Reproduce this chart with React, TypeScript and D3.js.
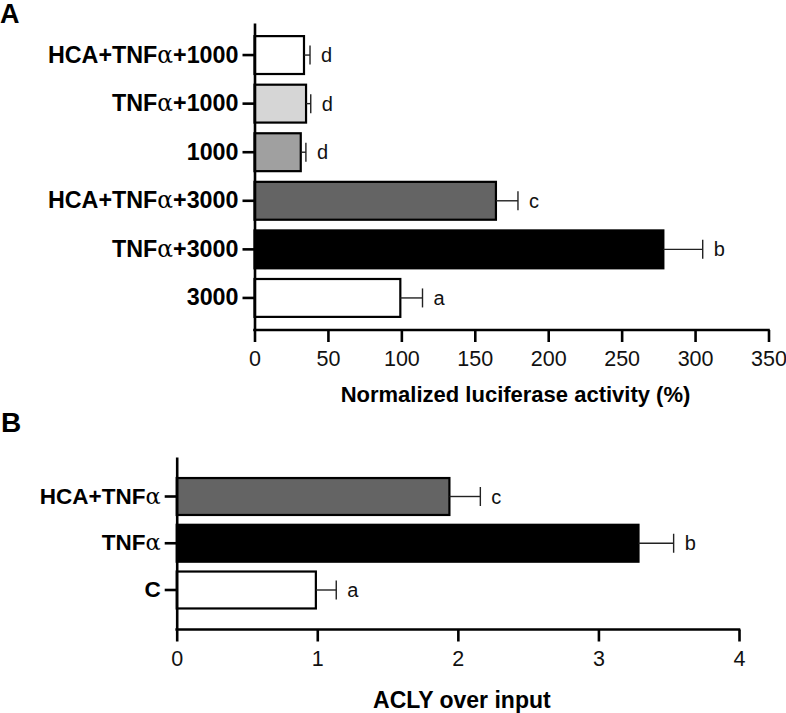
import React, { useRef, useEffect } from 'react';
import * as d3 from 'd3';

// panel A - luciferase
const catsA = ['HCA+TNFα+1000', 'TNFα+1000', '1000', 'HCA+TNFα+3000', 'TNFα+3000', '3000'];
const valsA = [33.7, 35.1, 31.5, 164.4, 278.4, 99.3];
const errA = [4.1, 3.2, 3.5, 15, 26.8, 15.1];
const sigA = ['d', 'd', 'd', 'c', 'b', 'a'];
const ticksA = [0, 50, 100, 150, 200, 250, 300, 350];

// panel B - ACLY ChIP
const catsB = ['HCA+TNFα', 'TNFα', 'C'];
const valsB = [1.94, 3.285, 0.99];
const errB = [0.22, 0.25, 0.145];
const sigB = ['c', 'b', 'a'];
const ticksB = [0, 1, 2, 3, 4];

const fillsA = ['#ffffff', '#d6d6d6', '#a0a0a0', '#646464', '#000000', '#ffffff'];
const fillsB = ['#646464', '#000000', '#ffffff'];

const SANS = '"Liberation Sans", Arial, Helvetica, sans-serif';

interface PanelOpts {
  cats: string[];
  vals: number[];
  errs: number[];
  sig: string[];
  fills: string[];
  ticks: number[];
  xDomain: [number, number];
  xRange: [number, number];
  yRange: [number, number];
  paddingInner: number;
  paddingOuter: number;
  labelSize: number;
  title: string;
  titleY: number;
  titleSize: number;
}

function drawPanel(svg: d3.Selection<SVGSVGElement, unknown, null, undefined>, o: PanelOpts) {
  const x = d3.scaleLinear().domain(o.xDomain).range(o.xRange);
  const y = d3.scaleBand<string>()
    .domain(o.cats)
    .range(o.yRange)
    .paddingInner(o.paddingInner)
    .paddingOuter(o.paddingOuter);

  const g = svg.append('g');

  // bars
  g.selectAll('rect.bar')
    .data(o.cats)
    .enter()
    .append('rect')
    .attr('class', 'bar')
    .attr('x', x(0))
    .attr('y', d => y(d) as number)
    .attr('width', (d, i) => x(o.vals[i]) - x(0))
    .attr('height', y.bandwidth())
    .attr('fill', (d, i) => o.fills[i])
    .attr('stroke', '#000')
    .attr('stroke-width', 2.2);

  // error bars (one-sided)
  const capH = 19;
  o.cats.forEach((c, i) => {
    const cy = (y(c) as number) + y.bandwidth() / 2;
    const x1 = x(o.vals[i]);
    const x2 = x(o.vals[i] + o.errs[i]);
    g.append('line')
      .attr('x1', x1).attr('x2', x2).attr('y1', cy).attr('y2', cy)
      .attr('stroke', '#222').attr('stroke-width', 1.4);
    g.append('line')
      .attr('x1', x2).attr('x2', x2).attr('y1', cy - capH / 2).attr('y2', cy + capH / 2)
      .attr('stroke', '#222').attr('stroke-width', 1.4);
    g.append('text')
      .attr('x', x2 + 11)
      .attr('y', cy)
      .attr('dy', '0.35em')
      .attr('font-family', SANS)
      .attr('font-size', 20)
      .attr('fill', '#111')
      .text(o.sig[i]);
  });

  // x axis
  const xAxis = d3.axisBottom(x)
    .tickValues(o.ticks)
    .tickFormat(d3.format('d'))
    .tickSizeInner(12)
    .tickSizeOuter(0)
    .tickPadding(9);
  const gx = g.append('g')
    .attr('transform', `translate(0,${o.yRange[1]})`)
    .call(xAxis);
  gx.select('.domain').attr('stroke-width', 2.6).attr('d', `M${x(0) - 1.3},0H${x.range()[1] + 1.3}`);
  gx.selectAll('.tick line').attr('stroke-width', 2.6);
  gx.selectAll('.tick text')
    .attr('font-family', SANS)
    .attr('font-size', 21.5)
    .attr('fill', '#111');

  // y axis
  const yAxis = d3.axisLeft(y).tickSizeInner(12).tickSizeOuter(0).tickPadding(4);
  const gy = g.append('g')
    .attr('transform', `translate(${x(0)},0)`)
    .call(yAxis);
  gy.select('.domain').attr('stroke-width', 2.6);
  gy.selectAll('.tick line').attr('stroke-width', 2.6);
  gy.selectAll<SVGTextElement, string>('.tick text')
    .attr('font-family', SANS)
    .attr('font-weight', 'bold')
    .attr('font-size', o.labelSize)
    .attr('fill', '#000')
    .each(function (d) {
      const t = d3.select(this);
      t.text('');
      const parts = d.split('α');
      parts.forEach((p, k) => {
        if (k > 0) {
          t.append('tspan')
            .attr('font-family', '"DejaVu Serif", "Liberation Serif", serif')
            .attr('font-weight', 'normal')
            .attr('font-size', o.labelSize)
            .text('α');
        }
        if (p) t.append('tspan').text(p);
      });
    });

  // axis title
  g.append('text')
    .attr('x', (x.range()[0] + x.range()[1]) / 2 + 4)
    .attr('y', o.titleY)
    .attr('text-anchor', 'middle')
    .attr('font-family', SANS)
    .attr('font-weight', 'bold')
    .attr('font-size', o.titleSize)
    .attr('fill', '#000')
    .text(o.title);
}

const Figure: React.FC = () => {
  const svgRef = useRef<SVGSVGElement | null>(null);

  useEffect(() => {
    if (!svgRef.current) return;
    const svg = d3.select(svgRef.current);
    svg.selectAll('*').remove();

    svg.append('rect').attr('width', 786).attr('height', 713).attr('fill', '#fff');

    drawPanel(svg, {
      cats: catsA,
      vals: valsA,
      errs: errA,
      sig: sigA,
      fills: fillsA,
      ticks: ticksA,
      xDomain: [0, 350],
      xRange: [254.5, 768.5],
      yRange: [23, 330],
      paddingInner: 0.22,
      paddingOuter: 0.27,
      labelSize: 23.3,
      title: 'Normalized luciferase activity (%)',
      titleY: 402,
      titleSize: 22,
    });

    drawPanel(svg, {
      cats: catsB,
      vals: valsB,
      errs: errB,
      sig: sigB,
      fills: fillsB,
      ticks: ticksB,
      xDomain: [0, 4],
      xRange: [176.7, 739],
      yRange: [457, 629.5],
      paddingInner: 0.21,
      paddingOuter: 0.45,
      labelSize: 22.5,
      title: 'ACLY over input',
      titleY: 708,
      titleSize: 23,
    });

    // panel letters
    svg.append('text')
      .attr('x', 0).attr('y', 23)
      .attr('font-family', SANS).attr('font-weight', 'bold').attr('font-size', 27)
      .text('A');
    svg.append('text')
      .attr('x', 1).attr('y', 432)
      .attr('font-family', SANS).attr('font-weight', 'bold').attr('font-size', 28)
      .text('B');
  }, []);

  return (
    <svg
      ref={svgRef}
      width={786}
      height={713}
      style={{ position: 'absolute', left: 0, top: 0, display: 'block' }}
    />
  );
};

export default function App() {
  return <Figure />;
}
